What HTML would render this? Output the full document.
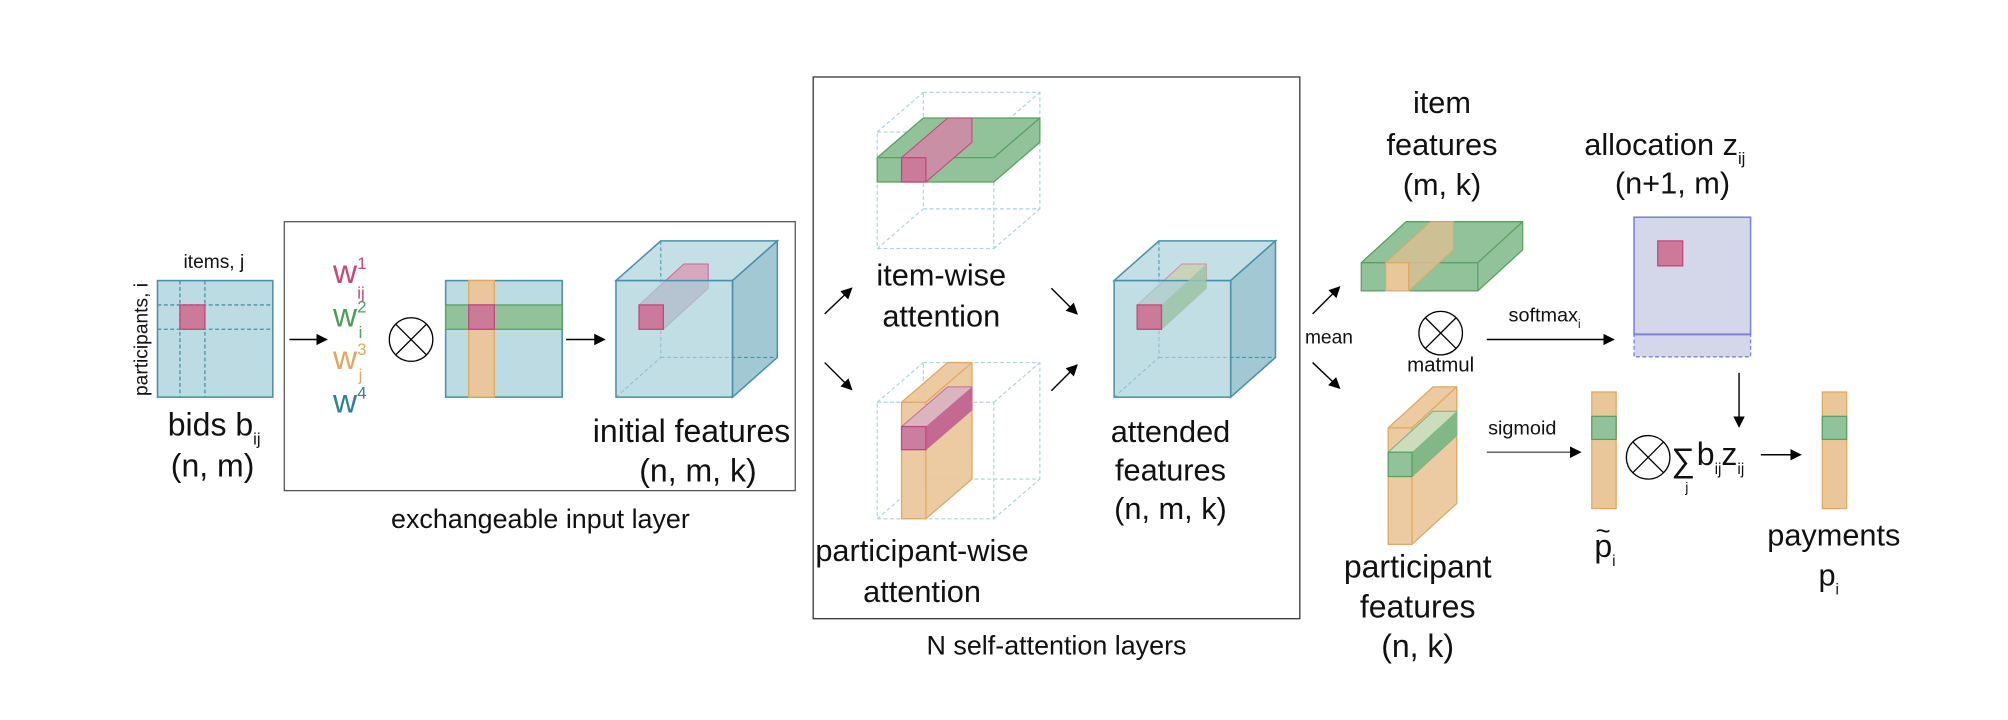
<!DOCTYPE html>
<html><head><meta charset="utf-8"><style>
html,body{margin:0;padding:0;background:#fff}
svg{display:block}
text{font-family:"Liberation Sans",sans-serif;fill:#111}
</style></head><body>
<svg width="2008" height="720" viewBox="0 0 1568 562" xmlns="http://www.w3.org/2000/svg">
<defs>
<marker id="ah" markerWidth="9" markerHeight="9" refX="8" refY="4.5" orient="auto" markerUnits="userSpaceOnUse">
<path d="M0,0 L9,4.5 L0,9 Z" fill="#000"/></marker>
</defs>
<rect width="1568" height="562" fill="#fff"/>

<!-- bids -->
<text x="167" y="209" font-size="15" text-anchor="middle">items, j</text>
<text transform="translate(115,265) rotate(-90)" font-size="15" text-anchor="middle">participants, i</text>
<rect x="123" y="219" width="90" height="91" fill="#bcdbe2" stroke="#4a90a8" stroke-width="1.2"/>
<g stroke="#4a90a8" stroke-dasharray="3,2" stroke-width="1">
<line x1="140.5" y1="219" x2="140.5" y2="310"/><line x1="160" y1="219" x2="160" y2="310"/>
<line x1="123" y1="238" x2="213" y2="238"/><line x1="123" y1="257" x2="213" y2="257"/></g>
<rect x="140.5" y="238" width="19.5" height="19" fill="#cc7a9a" stroke="#c04878"/>
<text x="131" y="340" font-size="25">bids b<tspan font-size="13" dy="7">ij</tspan></text>
<text x="166" y="372" font-size="25" text-anchor="middle">(n, m)</text>

<!-- box1 -->
<rect x="222" y="173" width="399" height="210" fill="none" stroke="#555" stroke-width="1"/>
<text x="422" y="412" font-size="21" text-anchor="middle">exchangeable input layer</text>
<line x1="226" y1="265" x2="255" y2="265" stroke="#000" stroke-width="1.2" marker-end="url(#ah)"/>
<g font-size="26">
<text x="260" y="221" style="fill:#c9457a">w</text><text x="279" y="210" font-size="13" style="fill:#c9457a">1</text><text x="279" y="233" font-size="13" style="fill:#c9457a">ij</text>
<text x="260" y="255" style="fill:#4e9e5a">w</text><text x="279" y="244" font-size="13" style="fill:#4e9e5a">2</text><text x="280" y="264" font-size="13" style="fill:#4e9e5a">i</text>
<text x="260" y="288" style="fill:#e0a860">w</text><text x="279" y="277" font-size="13" style="fill:#e0a860">3</text><text x="280" y="297" font-size="13" style="fill:#e0a860">j</text>
<text x="260" y="322" style="fill:#2f7f9a">w</text><text x="279" y="311" font-size="13" style="fill:#2f7f9a">4</text>
</g>
<g stroke="#000" stroke-width="1" fill="none"><circle cx="321" cy="265" r="17"/><line x1="309" y1="253" x2="333" y2="277"/><line x1="333" y1="253" x2="309" y2="277"/></g>
<rect x="348" y="219" width="91" height="91" fill="#bcdbe2" stroke="#4a90a8" stroke-width="1.2"/>
<rect x="366" y="219" width="20" height="91" fill="#eac79a" stroke="#e0a860"/>
<rect x="348" y="238" width="91" height="19" fill="#92c29a" stroke="#5aa060"/>
<rect x="366" y="238" width="20" height="19" fill="#cc7a9a" stroke="#c04878"/>
<line x1="442" y1="265" x2="472" y2="265" stroke="#000" stroke-width="1.2" marker-end="url(#ah)"/>
<!-- cube1 -->
<g stroke="#4a90a8" stroke-width="1.2">
<polygon points="481,219 516,188 607,188 572,219" fill="#c4dfe5"/>
<polygon points="572,219 607,188 607,279 572,310" fill="#a2c9d3"/>
<line x1="516" y1="188" x2="516" y2="279" stroke-dasharray="3,2" stroke-width="0.8"/>
<line x1="516" y1="279" x2="607" y2="279" stroke-dasharray="3,2" stroke-width="0.8"/>
<line x1="481" y1="310" x2="516" y2="279" stroke-dasharray="3,2" stroke-width="0.8"/>
</g>
<polygon points="499,238 534,206 553,206 553,225 518,257 499,257" fill="#d6a8bf" stroke="#c86a9a" stroke-width="0.8"/>
<rect x="481" y="219" width="91" height="91" fill="#a8d0da" fill-opacity="0.7" stroke="#4a90a8" stroke-width="1.2"/>
<rect x="499" y="238" width="19" height="19" fill="#cc7a9a" stroke="#c04878"/>
<text x="540" y="345" font-size="25" text-anchor="middle">initial features</text>
<text x="545" y="376" font-size="25" text-anchor="middle">(n, m, k)</text>

<!-- box2 -->
<rect x="635" y="60" width="380" height="423" fill="none" stroke="#333" stroke-width="1"/>
<text x="825" y="511" font-size="21" text-anchor="middle">N self-attention layers</text>
<!-- item-wise -->
<g stroke="#a8d4de" stroke-dasharray="3,2" fill="none" stroke-width="0.9">
<rect x="685" y="103" width="91" height="91"/><rect x="721" y="72" width="91" height="91"/>
<line x1="685" y1="103" x2="721" y2="72"/><line x1="776" y1="103" x2="812" y2="72"/>
<line x1="685" y1="194" x2="721" y2="163"/><line x1="776" y1="194" x2="812" y2="163"/></g>
<polygon points="685,123 721,92 812,92 812,111 776,142 685,142" fill="#92c29a" stroke="#5aa060" stroke-width="1"/>
<line x1="685" y1="123" x2="776" y2="123" stroke="#5aa060"/><line x1="776" y1="123" x2="812" y2="92" stroke="#5aa060"/>
<polygon points="704,123 740,92 759,92 759,111 723,142 704,142" fill="#c88fa5" stroke="#c04878" stroke-width="0.8"/>
<rect x="704" y="123" width="19" height="19" fill="#cc7a9a" stroke="#c04878"/>
<text x="735" y="223" font-size="24" text-anchor="middle">item-wise</text>
<text x="735" y="255" font-size="24" text-anchor="middle">attention</text>
<!-- participant-wise -->
<g stroke="#a8d4de" stroke-dasharray="3,2" fill="none" stroke-width="0.9">
<rect x="685" y="314" width="91" height="91"/><rect x="721" y="283" width="91" height="91"/>
<line x1="685" y1="314" x2="721" y2="283"/><line x1="776" y1="314" x2="812" y2="283"/>
<line x1="685" y1="405" x2="721" y2="374"/><line x1="776" y1="405" x2="812" y2="374"/></g>
<polygon points="704,314 740,283 759,283 759,374 723,405 704,405" fill="#eac79a" fill-opacity="0.92" stroke="#e0a860"/>
<line x1="723" y1="314" x2="723" y2="405" stroke="#e0a860"/><line x1="704" y1="314" x2="723" y2="314" stroke="#e0a860"/><line x1="723" y1="314" x2="759" y2="283" stroke="#e0a860"/>
<polygon points="704,333 740,302 759,302 759,320 723,351 704,351" fill="#dcb4bf" stroke="#c86a9a" stroke-width="0.8"/>
<polygon points="723,333 759,302 759,320 723,351" fill="#c46a92"/>
<rect x="704" y="333" width="19" height="18" fill="#c97f9d" stroke="#c04878"/>
<text x="720" y="438" font-size="24" text-anchor="middle">participant-wise</text>
<text x="720" y="470" font-size="24" text-anchor="middle">attention</text>
<g stroke="#000" stroke-width="1.1">
<line x1="644" y1="245" x2="665" y2="225" marker-end="url(#ah)"/>
<line x1="644" y1="283" x2="665" y2="304" marker-end="url(#ah)"/>
<line x1="821" y1="225" x2="841" y2="245" marker-end="url(#ah)"/>
<line x1="821" y1="305" x2="841" y2="285" marker-end="url(#ah)"/></g>
<!-- attended cube -->
<g stroke="#4a90a8" stroke-width="1.2">
<polygon points="870,219 905,188 996,188 961,219" fill="#c4dfe5"/>
<polygon points="961,219 996,188 996,279 961,310" fill="#a2c9d3"/>
<line x1="905" y1="188" x2="905" y2="279" stroke-dasharray="3,2" stroke-width="0.8"/>
<line x1="905" y1="279" x2="996" y2="279" stroke-dasharray="3,2" stroke-width="0.8"/>
<line x1="870" y1="310" x2="905" y2="279" stroke-dasharray="3,2" stroke-width="0.8"/>
</g>
<polygon points="888,238 923,206 942,206 942,225 907,257 888,257" fill="#c9d3b8" stroke="#d08cb0" stroke-width="0.8"/>
<rect x="870" y="219" width="91" height="91" fill="#a8d0da" fill-opacity="0.7" stroke="#4a90a8" stroke-width="1.2"/>
<polygon points="907,238 942,206 942,225 907,257" fill="#9cc6a6" opacity="0.8"/>
<rect x="888" y="238" width="19" height="19" fill="#cc7a9a" stroke="#c04878"/>
<text x="914" y="345" font-size="24" text-anchor="middle">attended</text>
<text x="914" y="375" font-size="24" text-anchor="middle">features</text>
<text x="914" y="405" font-size="24" text-anchor="middle">(n, m, k)</text>

<!-- right side -->
<text x="1019" y="268" font-size="15">mean</text>
<g stroke="#000" stroke-width="1.1">
<line x1="1025" y1="245" x2="1046" y2="224" marker-end="url(#ah)"/>
<line x1="1025" y1="283" x2="1046" y2="303" marker-end="url(#ah)"/></g>
<text x="1126" y="88" font-size="24" text-anchor="middle">item</text>
<text x="1126" y="121" font-size="24" text-anchor="middle">features</text>
<text x="1126" y="152" font-size="24" text-anchor="middle">(m, k)</text>
<polygon points="1063,205 1098,173 1189,173 1189,195 1154,227 1063,227" fill="#92c29a" stroke="#5aa060"/>
<line x1="1063" y1="205" x2="1154" y2="205" stroke="#5aa060"/><line x1="1154" y1="205" x2="1189" y2="173" stroke="#5aa060"/><line x1="1154" y1="205" x2="1154" y2="227" stroke="#5aa060"/>
<polygon points="1082,205 1117,173 1135,173 1135,195 1100,227 1082,227" fill="#d8c095" opacity="0.85" stroke="#e0a860" stroke-width="0.8"/>
<rect x="1082" y="205" width="18" height="22" fill="#eac79a" stroke="#e0a860"/>
<g stroke="#000" stroke-width="1" fill="none"><circle cx="1125" cy="260" r="17"/><line x1="1113" y1="248" x2="1137" y2="272"/><line x1="1137" y1="248" x2="1113" y2="272"/></g>
<text x="1125" y="290" font-size="16" text-anchor="middle">matmul</text>
<text x="1178" y="251" font-size="15.5">softmax<tspan font-size="9" dy="5">i</tspan></text>
<line x1="1161" y1="265" x2="1260" y2="265" stroke="#000" stroke-width="1.1" marker-end="url(#ah)"/>
<text x="1300" y="121" font-size="24" text-anchor="middle">allocation z<tspan font-size="13" dy="7">ij</tspan></text>
<text x="1306" y="151" font-size="24" text-anchor="middle">(n+1, m)</text>
<rect x="1276" y="169.5" width="91" height="91.5" fill="#d4d7ea" stroke="#7b80d8" stroke-width="1.2"/>
<rect x="1276" y="261" width="91" height="17.5" fill="#d4d7ea" stroke="#7b80d8" stroke-dasharray="3,2" stroke-width="1"/>
<line x1="1276" y1="261" x2="1367" y2="261" stroke="#7b80d8" stroke-width="1.5"/>
<rect x="1294.5" y="188" width="19.5" height="19.5" fill="#cc7a9a" stroke="#c04878"/>
<line x1="1358" y1="291" x2="1358" y2="333" stroke="#000" stroke-width="1.1" marker-end="url(#ah)"/>
<!-- participant features -->
<polygon points="1084,334 1119,302 1137.5,302 1137.5,393 1102.6,425 1084,425" fill="#eac79a" stroke="#e0a860" fill-opacity="0.92"/>
<line x1="1102.6" y1="334" x2="1102.6" y2="425" stroke="#e0a860"/><line x1="1084" y1="334" x2="1102.6" y2="334" stroke="#e0a860"/><line x1="1102.6" y1="334" x2="1137.5" y2="302" stroke="#e0a860"/>
<polygon points="1084,353 1119,321 1137.5,321 1137.5,340 1102.6,372 1084,372" fill="#cddcbd" stroke="#7ab07e" stroke-width="0.8"/>
<polygon points="1102.6,353 1137.5,321 1137.5,340 1102.6,372" fill="#82b888"/>
<rect x="1084" y="353" width="18.6" height="19" fill="#92c29a" stroke="#5aa060"/>
<text x="1107" y="451" font-size="25" text-anchor="middle">participant</text>
<text x="1107" y="482" font-size="25" text-anchor="middle">features</text>
<text x="1107" y="513" font-size="25" text-anchor="middle">(n, k)</text>
<text x="1162" y="339" font-size="15.5">sigmoid</text>
<line x1="1161" y1="353" x2="1234" y2="353" stroke="#555" stroke-width="1.1" marker-end="url(#ah)"/>
<rect x="1243" y="306" width="19" height="91" fill="#eac79a" stroke="#e0a860"/>
<rect x="1243" y="325" width="19" height="18" fill="#92c29a" stroke="#5aa060"/>
<text x="1245" y="435" font-size="25">p<tspan font-size="12" dy="7">i</tspan></text>
<text x="1246" y="421" font-size="20">~</text>
<g stroke="#000" stroke-width="1" fill="none"><circle cx="1287" cy="357" r="17"/><line x1="1275" y1="345" x2="1299" y2="369"/><line x1="1299" y1="345" x2="1275" y2="369"/></g>
<text x="1305" y="368" font-size="26">∑</text>
<text x="1316" y="384" font-size="11">j</text>
<text x="1325" y="363" font-size="25">b<tspan font-size="12" dy="7">ij</tspan><tspan dy="-7">z</tspan><tspan font-size="12" dy="7">ij</tspan></text>
<line x1="1375" y1="355" x2="1406" y2="355" stroke="#000" stroke-width="1.1" marker-end="url(#ah)"/>
<rect x="1423" y="306" width="19" height="91" fill="#eac79a" stroke="#e0a860"/>
<rect x="1423" y="325" width="19" height="18" fill="#92c29a" stroke="#5aa060"/>
<text x="1432" y="426" font-size="24" text-anchor="middle">payments</text>
<text x="1428" y="457" font-size="24" text-anchor="middle">p<tspan font-size="12" dy="7">i</tspan></text>
</svg>
</body></html>
